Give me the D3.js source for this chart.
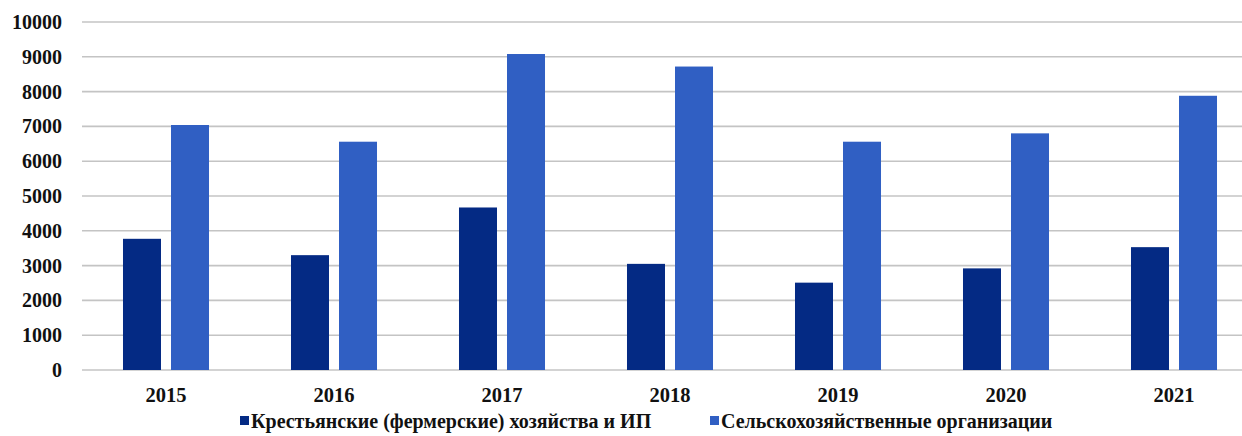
<!DOCTYPE html>
<html>
<head>
<meta charset="utf-8">
<script src="https://cdn.jsdelivr.net/npm/d3@7"></script>
<style>
  html, body { margin: 0; padding: 0; background: #fff; }
  svg { display: block; }
  svg text { font-family: "Liberation Serif", Tinos, "Times New Roman", "Noto Serif", "DejaVu Serif", serif !important; font-weight: bold; fill: #111; }
</style>
</head>
<body>
<svg id="chart" width="1242" height="436"></svg>
<script>
// Years on the category axis
const years = ["2015", "2016", "2017", "2018", "2019", "2020", "2021"];
// Series names (legend order)
const seriesNames = ["Крестьянские (фермерские) хозяйства и ИП", "Сельскохозяйственные организации"];
// Values per year for each series
const farmValues = [3770, 3300, 4670, 3050, 2510, 2920, 3530];
const orgValues  = [7040, 6560, 9080, 8720, 6560, 6800, 7880];
// Y-axis tick values
const yTicks = [0, 1000, 2000, 3000, 4000, 5000, 6000, 7000, 8000, 9000, 10000];

const colors = ["#042a84", "#305fc3"];
const W = 1242, H = 436;
const margin = { left: 82, top: 22, bottom: 66 };

const svg = d3.select("#chart");

const y = d3.scaleLinear().domain([0, 10000]).range([H - margin.bottom, margin.top]);
// plot area continues past the right edge of the page
const x0 = d3.scaleBand().domain(years).range([margin.left, 1258]).paddingInner(0.488).paddingOuter(0.244);
const x1 = d3.scaleBand().domain([0, 1]).range([0, x0.bandwidth()]).paddingInner(0.2083);

// Gridlines
svg.append("g")
  .selectAll("line")
  .data(yTicks)
  .join("line")
  .attr("x1", margin.left)
  .attr("x2", W)
  .attr("y1", d => y(d))
  .attr("y2", d => y(d))
  .attr("stroke", "#c4c4c4")
  .attr("stroke-width", 1.6);

// Y axis labels
const yAxis = d3.axisLeft(y).tickValues(yTicks).tickSize(0).tickPadding(0).tickFormat(d3.format("d"));
svg.append("g")
  .attr("transform", `translate(62,0)`)
  .call(yAxis)
  .call(g => g.select(".domain").remove())
  .selectAll("text")
  .attr("font-size", 20);

// Bars
const rows = years.map((yr, i) => ({ year: yr, vals: [farmValues[i], orgValues[i]] }));
const groups = svg.append("g")
  .selectAll("g")
  .data(rows)
  .join("g")
  .attr("transform", d => `translate(${x0(d.year)},0)`);

groups.selectAll("rect")
  .data(d => d.vals.map((v, k) => ({ v, k })))
  .join("rect")
  .attr("x", d => x1(d.k))
  .attr("width", x1.bandwidth())
  .attr("y", d => y(d.v))
  .attr("height", d => y(0) - y(d.v))
  .attr("fill", d => colors[d.k]);

// X axis labels
const xAxis = d3.axisBottom(x0).tickSize(0).tickPadding(0);
svg.append("g")
  .attr("transform", `translate(0,${y(0) + 17})`)
  .call(xAxis)
  .call(g => g.select(".domain").remove())
  .selectAll("text")
  .attr("font-size", 20.5);

// Legend
const legendX = [240, 710];
const legend = svg.append("g")
  .selectAll("g")
  .data(seriesNames)
  .join("g")
  .attr("transform", (d, i) => `translate(${legendX[i]},428)`);
legend.append("rect")
  .attr("x", 0).attr("y", -12)
  .attr("width", 9).attr("height", 9)
  .attr("fill", (d, i) => colors[i]);
legend.append("text")
  .attr("x", 11)
  .attr("font-size", 20)
  .text(d => d);
</script>
</body>
</html>
